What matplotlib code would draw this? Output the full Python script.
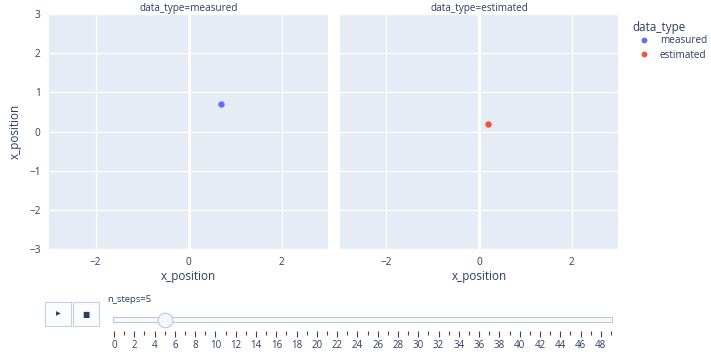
import numpy as np
import matplotlib
matplotlib.use("Agg")
import matplotlib.pyplot as plt
from matplotlib.patches import Rectangle
from matplotlib.lines import Line2D

# data
data_types = ["measured", "estimated"]
x_position = [0.7, 0.2]
y_position = [0.7, 0.2]
colors = ["#636efa", "#EF553B"]
n_steps = list(range(50))
current_step = 5

W, H = 711, 358
plt.rcParams['font.family'] = ['Open Sans', 'DejaVu Sans']
txt = "#2a3f5f"
bg = "#E5ECF6"


def px_rect(x0, y0, x1, y1):
    # pixel box (top-left origin) -> figure fraction rect
    return [x0 / W, 1 - y1 / H, (x1 - x0) / W, (y1 - y0) / H]


fig = plt.figure(figsize=(W / 100, H / 100), dpi=100)

panels = [(49, 328), (340, 618)]
for i, dt in enumerate(data_types):
    x0, x1 = panels[i]
    ax = fig.add_axes(px_rect(x0, 14, x1, 249))
    ax.set_facecolor(bg)
    ax.set_xlim(-3, 3)
    ax.set_ylim(-3, 3)
    ax.set_xticks([-2, 0, 2])
    ax.set_yticks([-3, -2, -1, 0, 1, 2, 3])
    ax.grid(True, color="white", lw=1)
    ax.axvline(0, color="white", lw=2, zorder=1)
    ax.set_axisbelow(True)
    for s in ax.spines.values():
        s.set_visible(False)
    ax.tick_params(length=0, labelsize=7.3, labelcolor=txt, pad=6)
    if i > 0:
        ax.tick_params(labelleft=False)
    else:
        ax.set_ylabel("x_position", fontsize=8.4, color=txt, labelpad=5)
    ax.set_xlabel("x_position", fontsize=8.4, color=txt, labelpad=1)
    ax.set_title(f"data_type={dt}", fontsize=7.2, color=txt, pad=2)
    ax.scatter([x_position[i]], [y_position[i]], s=13, color=colors[i],
               zorder=3, label=dt)

handles = [Line2D([], [], ls="none", marker="o", ms=3.2, color=c) for c in colors]
leg = fig.legend(handles=handles, labels=data_types, title="data_type",
                 loc="upper left", bbox_to_anchor=(625 / W, 1 - 14 / H),
                 frameon=False, fontsize=7.2, title_fontsize=8.4,
                 handletextpad=0.4, labelspacing=0.35, handlelength=2.4,
                 borderpad=0.2)
leg.get_title().set_color(txt)
leg._legend_box.align = "left"
leg._legend_box.sep = 1
for t in leg.get_texts():
    t.set_color(txt)

# play / stop buttons
ctrl = fig.add_axes([0, 0, 1, 1], zorder=-1)
ctrl.set_xlim(0, W)
ctrl.set_ylim(H, 0)
ctrl.axis("off")
for (bx, glyph, gs) in [(45, "\u25B6", 4.5), (73, "\u25A0", 5.5)]:
    ctrl.add_patch(Rectangle((bx, 302), 26, 24, facecolor="#fbfcfe",
                             edgecolor="#c8d0dd", lw=0.8))
    ctrl.text(bx + 13, 314, glyph, ha="center", va="center", fontsize=gs,
              color=txt, family="DejaVu Sans")
ctrl.text(107, 300, f"n_steps={current_step}", ha="left", va="center",
          fontsize=6.8, color=txt)

# slider
sl = fig.add_axes(px_rect(114, 312, 611, 331))
sl.set_xlim(n_steps[0], n_steps[-1])
sl.set_ylim(0, 1)
for s in sl.spines.values():
    s.set_visible(False)
sl.patch.set_alpha(0)
sl.set_yticks([])
sl.add_patch(Rectangle((-0.1, 0.47), n_steps[-1] + 0.2, 0.27, facecolor="#f8fafc",
                       edgecolor="#bec8d9", lw=0.8, clip_on=False))
sl.plot([current_step], [0.6], "o", ms=10.5, mfc="#f3f6fa", mec="#bec8d9",
        mew=0.8, clip_on=False, zorder=5)
major = [s for s in n_steps if s % 2 == 0]
minor = [s for s in n_steps if s % 2 == 1]
sl.set_xticks(major)
sl.set_xticklabels([str(s) for s in major])
sl.set_xticks(minor, minor=True)
sl.tick_params(axis="x", which="major", length=4.5, width=0.8, color="#444444",
               labelsize=7, labelcolor=txt, pad=2, direction="out")
sl.tick_params(axis="x", which="minor", length=3, width=0.8, color="#444444",
               direction="out")

fig.savefig("out.png", dpi=100, facecolor="white")
